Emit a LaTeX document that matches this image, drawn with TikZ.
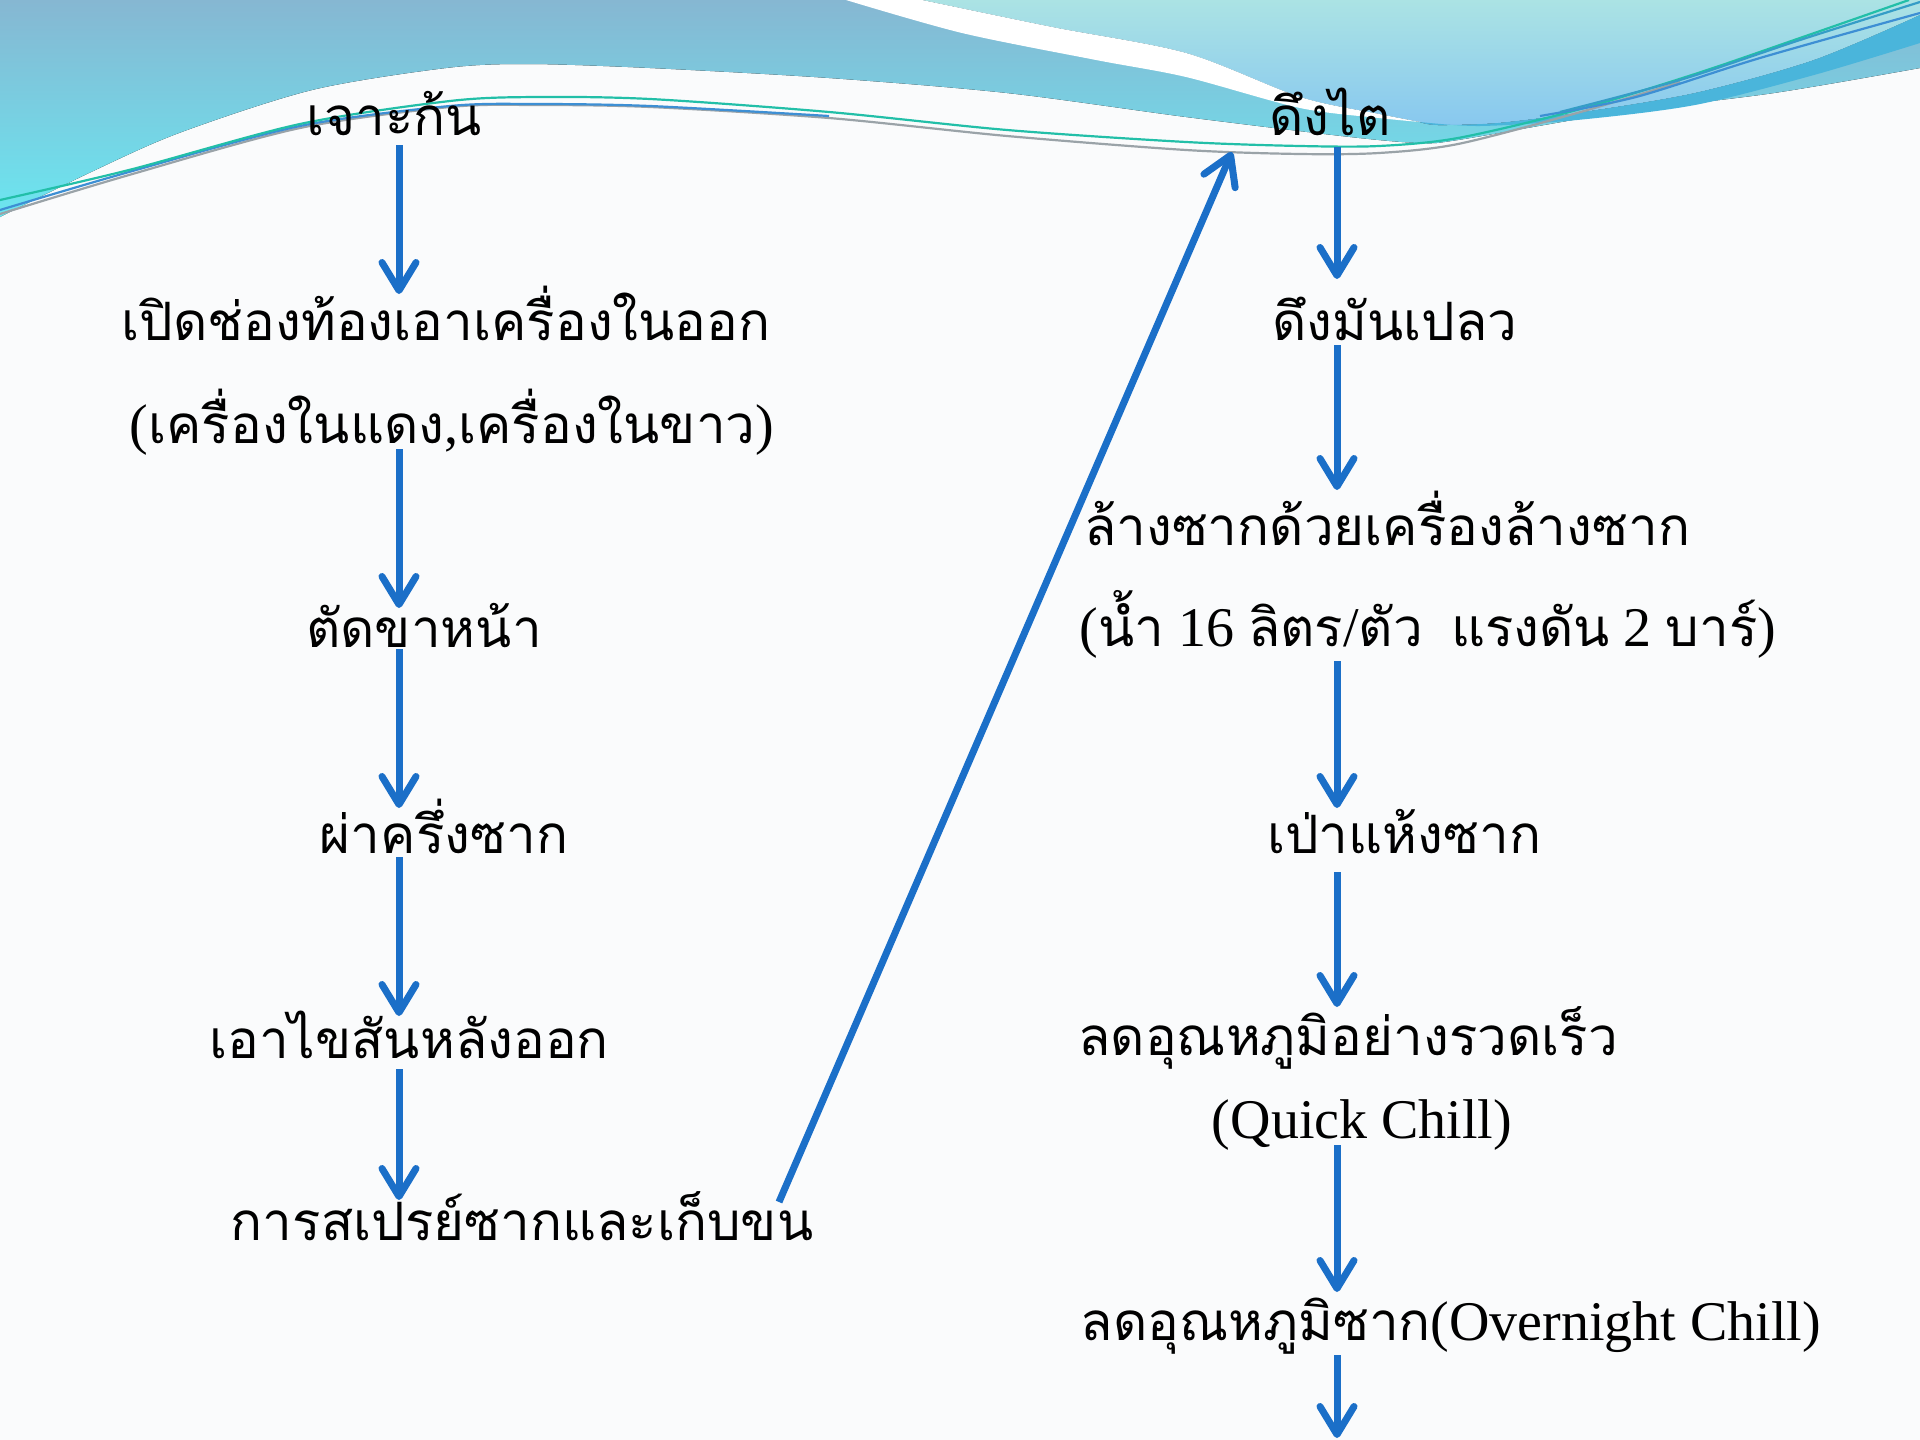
\documentclass[tikz,border=0pt]{standalone}
\usepackage{fontspec}
\setmainfont{Liberation Serif}
\newfontfamily\thaifont[Script=Thai,Scale=0.945]{Loma}
\usetikzlibrary{arrows.meta,calc}
\newcommand\thtxt[1]{{\thaifont #1}}
\definecolor{arrblue}{HTML}{1B6FC8}
\definecolor{bandtop}{HTML}{86B7D2}
\definecolor{bandbot}{HTML}{6BE6F0}
\definecolor{ctop}{HTML}{ABE3E4}
\definecolor{cbot}{HTML}{88C8EF}
\definecolor{dband}{HTML}{4AB5DB}
\definecolor{lteal}{HTML}{22BFA8}
\definecolor{lgray}{HTML}{9AA3A8}
\definecolor{lblue}{HTML}{3D8FD4}
\definecolor{bg}{HTML}{FAFBFC}
\begin{document}
\begin{tikzpicture}[x=1pt,y=-1pt,
  lbl/.style={anchor=base,inner sep=0pt,font=\fontsize{56}{60}\selectfont},
  arr/.style={draw=arrblue,line width=7pt,-{Straight Barb[length=28pt,width=34pt,round]}},
  thin/.style={line width=2.2pt}]
\useasboundingbox (0,0) rectangle (1920,1440);
\fill[bg] (0,0) rectangle (1920,1440);
% banner main shape
\fill[top color=bandtop,bottom color=bandbot]
  (0,0) -- (1920,0) -- (1920,68) -- plot[smooth] coordinates {(1920,68) (1774,93) (1616,113) (1458,140) (1420,143) (1350,137) (1186,117) (1007,93) (829,78) (650,68) (527,64) (446,68) (312,90) (179,133) (89,173) (0,217)} -- cycle;
% right light shape
\fill[top color=ctop,bottom color=cbot]
  (922,0) -- plot[smooth] coordinates {(922,0) (1052,27) (1186,53) (1300,97) (1379,114) (1420,122)}
  -- plot[smooth] coordinates {(1420,122) (1438,125) (1498,123) (1577,113) (1695,93) (1814,60) (1920,15)} -- (1920,0) -- cycle;
% dark band
\fill[dband]
  plot[smooth] coordinates {(1420,122) (1438,125) (1498,123) (1577,113) (1695,93) (1814,60) (1920,15)}
  -- (1920,43) -- plot[smooth] coordinates {(1920,43) (1814,75) (1695,105) (1577,120) (1480,126) (1420,122)} -- cycle;
% white stripe
\fill[white]
  plot[smooth] coordinates {(846,0) (962,33) (1096,60) (1186,77) (1300,108) (1379,118) (1420,122)}
  -- plot[smooth] coordinates {(1420,122) (1379,114) (1300,97) (1186,53) (1052,27) (922,0)} -- cycle;
% thin lines
\draw[thin,lgray] plot[smooth] coordinates {(0,214) (129,175) (300,128) (450,107) (536,105) (650,107) (829,118) (1007,136) (1186,150) (1300,154) (1379,153) (1458,144) (1577,113) (1680,82)};
\draw[thin,lblue] plot[smooth] coordinates {(0,210) (129,172) (300,126) (450,106) (536,104) (650,106) (829,116)};
\draw[thin,lteal] plot[smooth] coordinates {(0,200) (129,170) (300,124) (450,101) (536,97) (650,99) (829,112) (1007,130) (1186,142) (1300,146) (1379,146) (1458,138) (1577,110) (1695,74) (1800,38) (1909,0)};
\draw[thin,lblue] plot[smooth] coordinates {(1540,116) (1636,97) (1760,58) (1920,13)};
\draw[thin,lblue!70!lteal] plot[smooth] coordinates {(1560,112) (1680,80) (1800,40) (1920,2)};
% texts
\node[lbl] (l1) at (394,135) {\thtxt{เจาะก้น}};
\node[lbl] (l2) at (446,340) {\thtxt{เปิดช่องท้องเอาเครื่องในออก}};
\node[lbl] (l3) at (452,443) {(\thtxt{เครื่องในแดง},\thtxt{เครื่องในขาว})};
\node[lbl] (l4) at (424,647) {\thtxt{ตัดขาหน้า}};
\node[lbl] (l5) at (444,853) {\thtxt{ผ่าครึ่งซาก}};
\node[lbl] (l6) at (409,1058) {\thtxt{เอาไขสันหลังออก}};
\node[lbl] (l7) at (522,1240) {\thtxt{การสเปรย์ซากและเก็บขน}};
\node[lbl] (r1) at (1330,135) {\thtxt{ดึงไต}};
\node[lbl] (r2) at (1395,340) {\thtxt{ดึงมันเปลว}};
\node[lbl] (r3) at (1387,545) {\thtxt{ล้างซากด้วยเครื่องล้างซาก}};
\node[lbl] (r4) at (1428,646) {(\thtxt{น้ำ} 16 \thtxt{ลิตร}/\thtxt{ตัว}\ \ \thtxt{แรงดัน} 2 \thtxt{บาร์})};
\node[lbl] (r5) at (1404,853) {\thtxt{เป่าแห้งซาก}};
\node[lbl] (r6) at (1348,1055) {\thtxt{ลดอุณหภูมิอย่างรวดเร็ว}};
\node[lbl] (r7) at (1362,1138) {(Quick Chill)};
\node[lbl] (r8) at (1451,1340) {\thtxt{ลดอุณหภูมิซาก}(Overnight Chill)};
\coordinate (cL) at (399,0);
\coordinate (cR) at (1337,0);
\coordinate (rend) at (1337,1438);
% arrows left
\draw[arr] ($(l1.base -| cL)+(0,10)$) -- ($(l2.base -| cL)+(0,-46)$);
\draw[arr] ($(l3.base -| cL)+(0,6)$) -- ($(l4.base -| cL)+(0,-39)$);
\draw[arr] ($(l4.base -| cL)+(0,2)$) -- ($(l5.base -| cL)+(0,-45)$);
\draw[arr] ($(l5.base -| cL)+(0,4)$) -- ($(l6.base -| cL)+(0,-42)$);
\draw[arr] ($(l6.base -| cL)+(0,11)$) -- ($(l7.base -| cL)+(0,-40)$);
\draw[arr] ($(l7.base)+(257,-38)$) -- ($(r1.base)+(-98,17)$);
% arrows right
\draw[arr] ($(r1.base -| cR)+(0,12)$) -- ($(r2.base -| cR)+(0,-61)$);
\draw[arr] ($(r2.base -| cR)+(0,5)$) -- ($(r3.base -| cR)+(0,-55)$);
\draw[arr] ($(r4.base -| cR)+(0,15)$) -- ($(r5.base -| cR)+(0,-45)$);
\draw[arr] ($(r5.base -| cR)+(0,19)$) -- ($(r6.base -| cR)+(0,-48)$);
\draw[arr] ($(r7.base -| cR)+(0,7)$) -- ($(r8.base -| cR)+(0,-48)$);
\draw[arr] ($(r8.base -| cR)+(0,15)$) -- (rend);
\end{tikzpicture}
\end{document}
